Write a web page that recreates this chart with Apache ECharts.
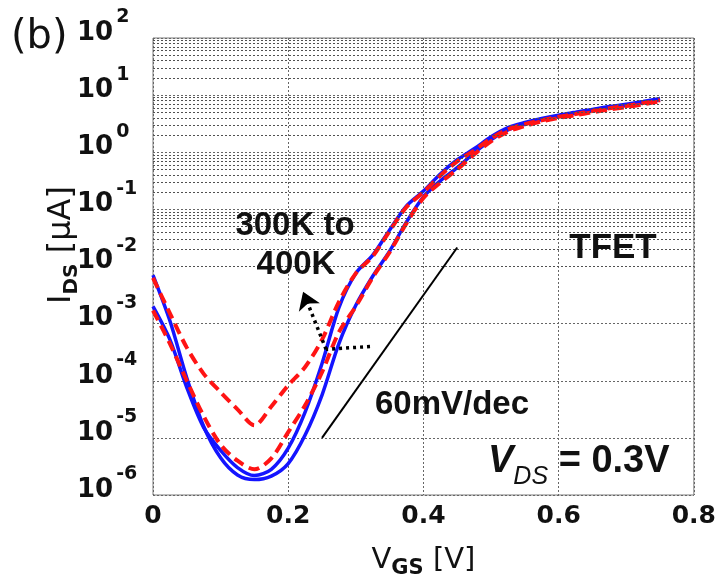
<!DOCTYPE html>
<html><head><meta charset="utf-8">
<script src="https://cdn.jsdelivr.net/npm/echarts@6/dist/echarts.min.js"></script>
<style>html,body{margin:0;padding:0;background:#fff}#c{width:719px;height:584px}</style>
</head><body><div id="c"></div>
<script>
// Gate voltage samples (V)
const vgs = [0,0.025,0.05,0.075,0.1,0.125,0.15,0.175,0.2,0.225,0.25,0.275,0.3,0.325,0.35,0.375,0.4,0.425,0.45,0.475,0.5,0.525,0.55,0.575,0.6,0.625,0.65,0.675,0.7,0.725,0.75];
// Drain current (uA) – blue solid curves
const blueOuter = [7.08e-3,1.12e-3,1.12e-4,1.58e-5,4.47e-6,2.24e-6,1.86e-6,2.14e-6,3.55e-6,1.12e-5,5.62e-5,4.47e-4,2.09e-3,6.76e-3,1.86e-2,6.03e-2,0.166,0.316,0.537,0.977,1.66,2.45,3.09,3.72,4.27,4.79,5.37,6.03,6.61,7.41,8.32];
const blueInner = [2.00e-3,5.25e-4,7.59e-5,1.51e-5,6.03e-6,3.02e-6,2.19e-6,2.82e-6,6.61e-6,2.82e-5,2.00e-4,1.91e-3,7.59e-3,1.58e-2,4.37e-2,0.115,0.209,0.417,0.741,1.15,1.86,2.69,3.31,3.89,4.47,5.01,5.62,6.31,6.92,7.76,8.71];
// Drain current (uA) – red dashed curves
const redHigh = [6.31e-3,1.51e-3,3.80e-4,1.32e-4,6.31e-5,3.16e-5,1.66e-5,3.55e-5,8.32e-5,1.74e-4,5.25e-4,2.40e-3,7.59e-3,1.51e-2,4.17e-2,0.110,0.200,0.389,0.692,1.07,1.74,2.51,3.09,3.63,4.17,4.68,5.25,5.89,6.46,7.24,8.13];
const redLow = [1.70e-3,4.47e-4,1.00e-4,2.40e-5,7.59e-6,3.98e-6,2.82e-6,4.37e-6,1.26e-5,3.72e-5,1.41e-4,7.08e-4,2.00e-3,6.46e-3,1.78e-2,5.75e-2,0.158,0.295,0.501,0.912,1.55,2.29,2.88,3.47,3.98,4.47,5.01,5.62,6.17,6.92,7.76];
// 60 mV/dec reference line
const slopeV = [0.25, 0.45];
const slopeI = [1.0e-5, 2.15e-2];
// dotted arrow path (300K -> 400K)
const arrowV = [0.321, 0.256, 0.222];
const arrowI = [3.98e-4, 3.55e-4, 3.63e-3];
// axis ticks
const xTicks = [0, 0.2, 0.4, 0.6, 0.8];
const xTickLabels = ['0', '0.2', '0.4', '0.6', '0.8'];
const yExponents = [-6, -5, -4, -3, -2, -1, 0, 1, 2];
const minorMultipliers = [2, 3, 4, 5, 6, 7, 8, 9];

const FONT = 'DejaVu Sans';
const ARIAL = 'Liberation Sans';
const pair = (xs, ys) => xs.map((x, i) => [x, ys[i]]);

const minorLines = [];
for (let k = yExponents[0]; k < yExponents[yExponents.length - 1]; k++) {
  for (const m of minorMultipliers) minorLines.push({ yAxis: m * Math.pow(10, k) });
}

const chart = echarts.init(document.getElementById('c'), null, { renderer: 'canvas' });
const gridLine = { color: '#666', width: 1, type: [2, 2] };
const minorLine = { color: '#505050', width: 1, type: [2, 2] };
const txt = (x, y, text, size) => ({ type: 'text', x: x, y: y, z: 100, style: {
  text: text, fontSize: size, fontWeight: 'bold', fontFamily: ARIAL, fill: '#111',
  textAlign: 'center', align: 'center', textVerticalAlign: 'middle', verticalAlign: 'middle' } });

const option = {
  animation: false,
  backgroundColor: '#fff',
  grid: { left: 153, right: 22, top: 38, bottom: 78, show: true, borderColor: '#7a7a7a', borderWidth: 1, backgroundColor: 'transparent' },
  xAxis: {
    type: 'value', min: 0, max: 0.8, interval: 0.2,
    axisLine: { show: false }, axisTick: { show: false },
    splitLine: { show: true, lineStyle: gridLine },
    axisLabel: {
      margin: 9, color: '#111', fontSize: 25, fontWeight: 'bold', fontFamily: FONT,
      formatter: v => { const i = xTicks.findIndex(t => Math.abs(t - v) < 1e-9); return i >= 0 ? xTickLabels[i] : ''; }
    },
    name: '{v|V}{s|GS}{v| [V]}', nameLocation: 'middle', nameGap: 46,
    nameTextStyle: { rich: {
      v: { fontSize: 29, fontFamily: FONT, color: '#111', lineHeight: 38 },
      s: { fontSize: 21, fontFamily: FONT, fontWeight: 'bold', color: '#111', verticalAlign: 'bottom', lineHeight: 21 }
    } }
  },
  yAxis: {
    type: 'log', logBase: 10, min: 1e-6, max: 100, interval: 1,
    axisLine: { show: false }, axisTick: { show: false },
    splitLine: { show: true, lineStyle: gridLine },
    axisLabel: {
      margin: 76, align: 'left', padding: [0, 0, 10, 0],
      formatter: v => '{b|10}{s|' + Math.round(Math.log10(v)) + '}',
      rich: {
        b: { fontSize: 26, fontWeight: 'bold', fontFamily: FONT, color: '#111', lineHeight: 50 },
        s: { fontSize: 19, fontWeight: 'bold', fontFamily: FONT, color: '#111', verticalAlign: 'top', lineHeight: 19, padding: [0, 0, 0, 3] }
      }
    }
  },
  series: [
    { type: 'line', name: 'minor grid', data: [], silent: true, z: 1,
      markLine: { silent: true, symbol: ['none', 'none'], label: { show: false }, animation: false,
        lineStyle: minorLine, data: minorLines } },
    { type: 'line', name: 'blue outer', data: pair(vgs, blueOuter), smooth: 0.3, showSymbol: false, z: 3,
      lineStyle: { color: '#1414ff', width: 3.5 } },
    { type: 'line', name: 'blue inner', data: pair(vgs, blueInner), smooth: 0.3, showSymbol: false, z: 3,
      lineStyle: { color: '#1414ff', width: 3.5 } },
    { type: 'line', name: 'red high', data: pair(vgs, redHigh), smooth: 0.3, showSymbol: false, z: 4,
      lineStyle: { color: '#ff1414', width: 4, type: [11, 6] } },
    { type: 'line', name: 'red low', data: pair(vgs, redLow), smooth: 0.3, showSymbol: false, z: 4,
      lineStyle: { color: '#ff1414', width: 4, type: [11, 6] } },
    { type: 'line', name: '60mV/dec', data: pair(slopeV, slopeI), showSymbol: false, z: 5,
      lineStyle: { color: '#000', width: 2 } },
    { type: 'line', name: 'arrow', data: [], z: 6,
      markLine: { silent: true, animation: false, label: { show: false },
        lineStyle: { color: '#000', width: 3.5, type: [3, 4] },
        data: [
          [{ coord: [arrowV[0], arrowI[0]], symbol: 'none' }, { coord: [arrowV[1], arrowI[1]], symbol: 'none' }],
          [{ coord: [arrowV[1], arrowI[1]], symbol: 'none' }, { coord: [arrowV[2], arrowI[2]], symbol: 'arrow', symbolSize: 17 }]
        ] } }
  ],
  graphic: [
    { type: 'text', x: 11, y: 38, style: { text: '(b)', fontSize: 40, fontFamily: FONT, fill: '#111', textVerticalAlign: 'middle', verticalAlign: 'middle' } },
    { type: 'text', x: 62, y: 245, rotation: Math.PI / 2, style: {
      text: '{i|I}{s|DS}{i| [μA]}', textAlign: 'center', align: 'center', textVerticalAlign: 'middle', verticalAlign: 'middle',
      rich: {
        i: { fontSize: 32, fontFamily: FONT, fill: '#111', lineHeight: 40 },
        s: { fontSize: 20, fontFamily: FONT, fontWeight: 'bold', fill: '#111', verticalAlign: 'bottom', lineHeight: 20 }
      } } },
    txt(295, 226, '300K to', 33),
    txt(296, 265, '400K', 33),
    txt(613, 248, 'TFET', 35),
    txt(452, 405, '60mV/dec', 33),
    { type: 'text', x: 488, y: 462, style: {
      text: '{v|V}{d|DS}{r| = 0.3V}', textVerticalAlign: 'middle', verticalAlign: 'middle',
      rich: {
        v: { fontSize: 38, fontWeight: 'bold', fontStyle: 'italic', fontFamily: ARIAL, fill: '#111', lineHeight: 56 },
        d: { fontSize: 25, fontStyle: 'italic', fontFamily: ARIAL, fill: '#111', verticalAlign: 'bottom', lineHeight: 22 },
        r: { fontSize: 38, fontWeight: 'bold', fontFamily: ARIAL, fill: '#111', lineHeight: 56 }
      } } }
  ]
};
chart.setOption(option);
</script>
</body></html>
